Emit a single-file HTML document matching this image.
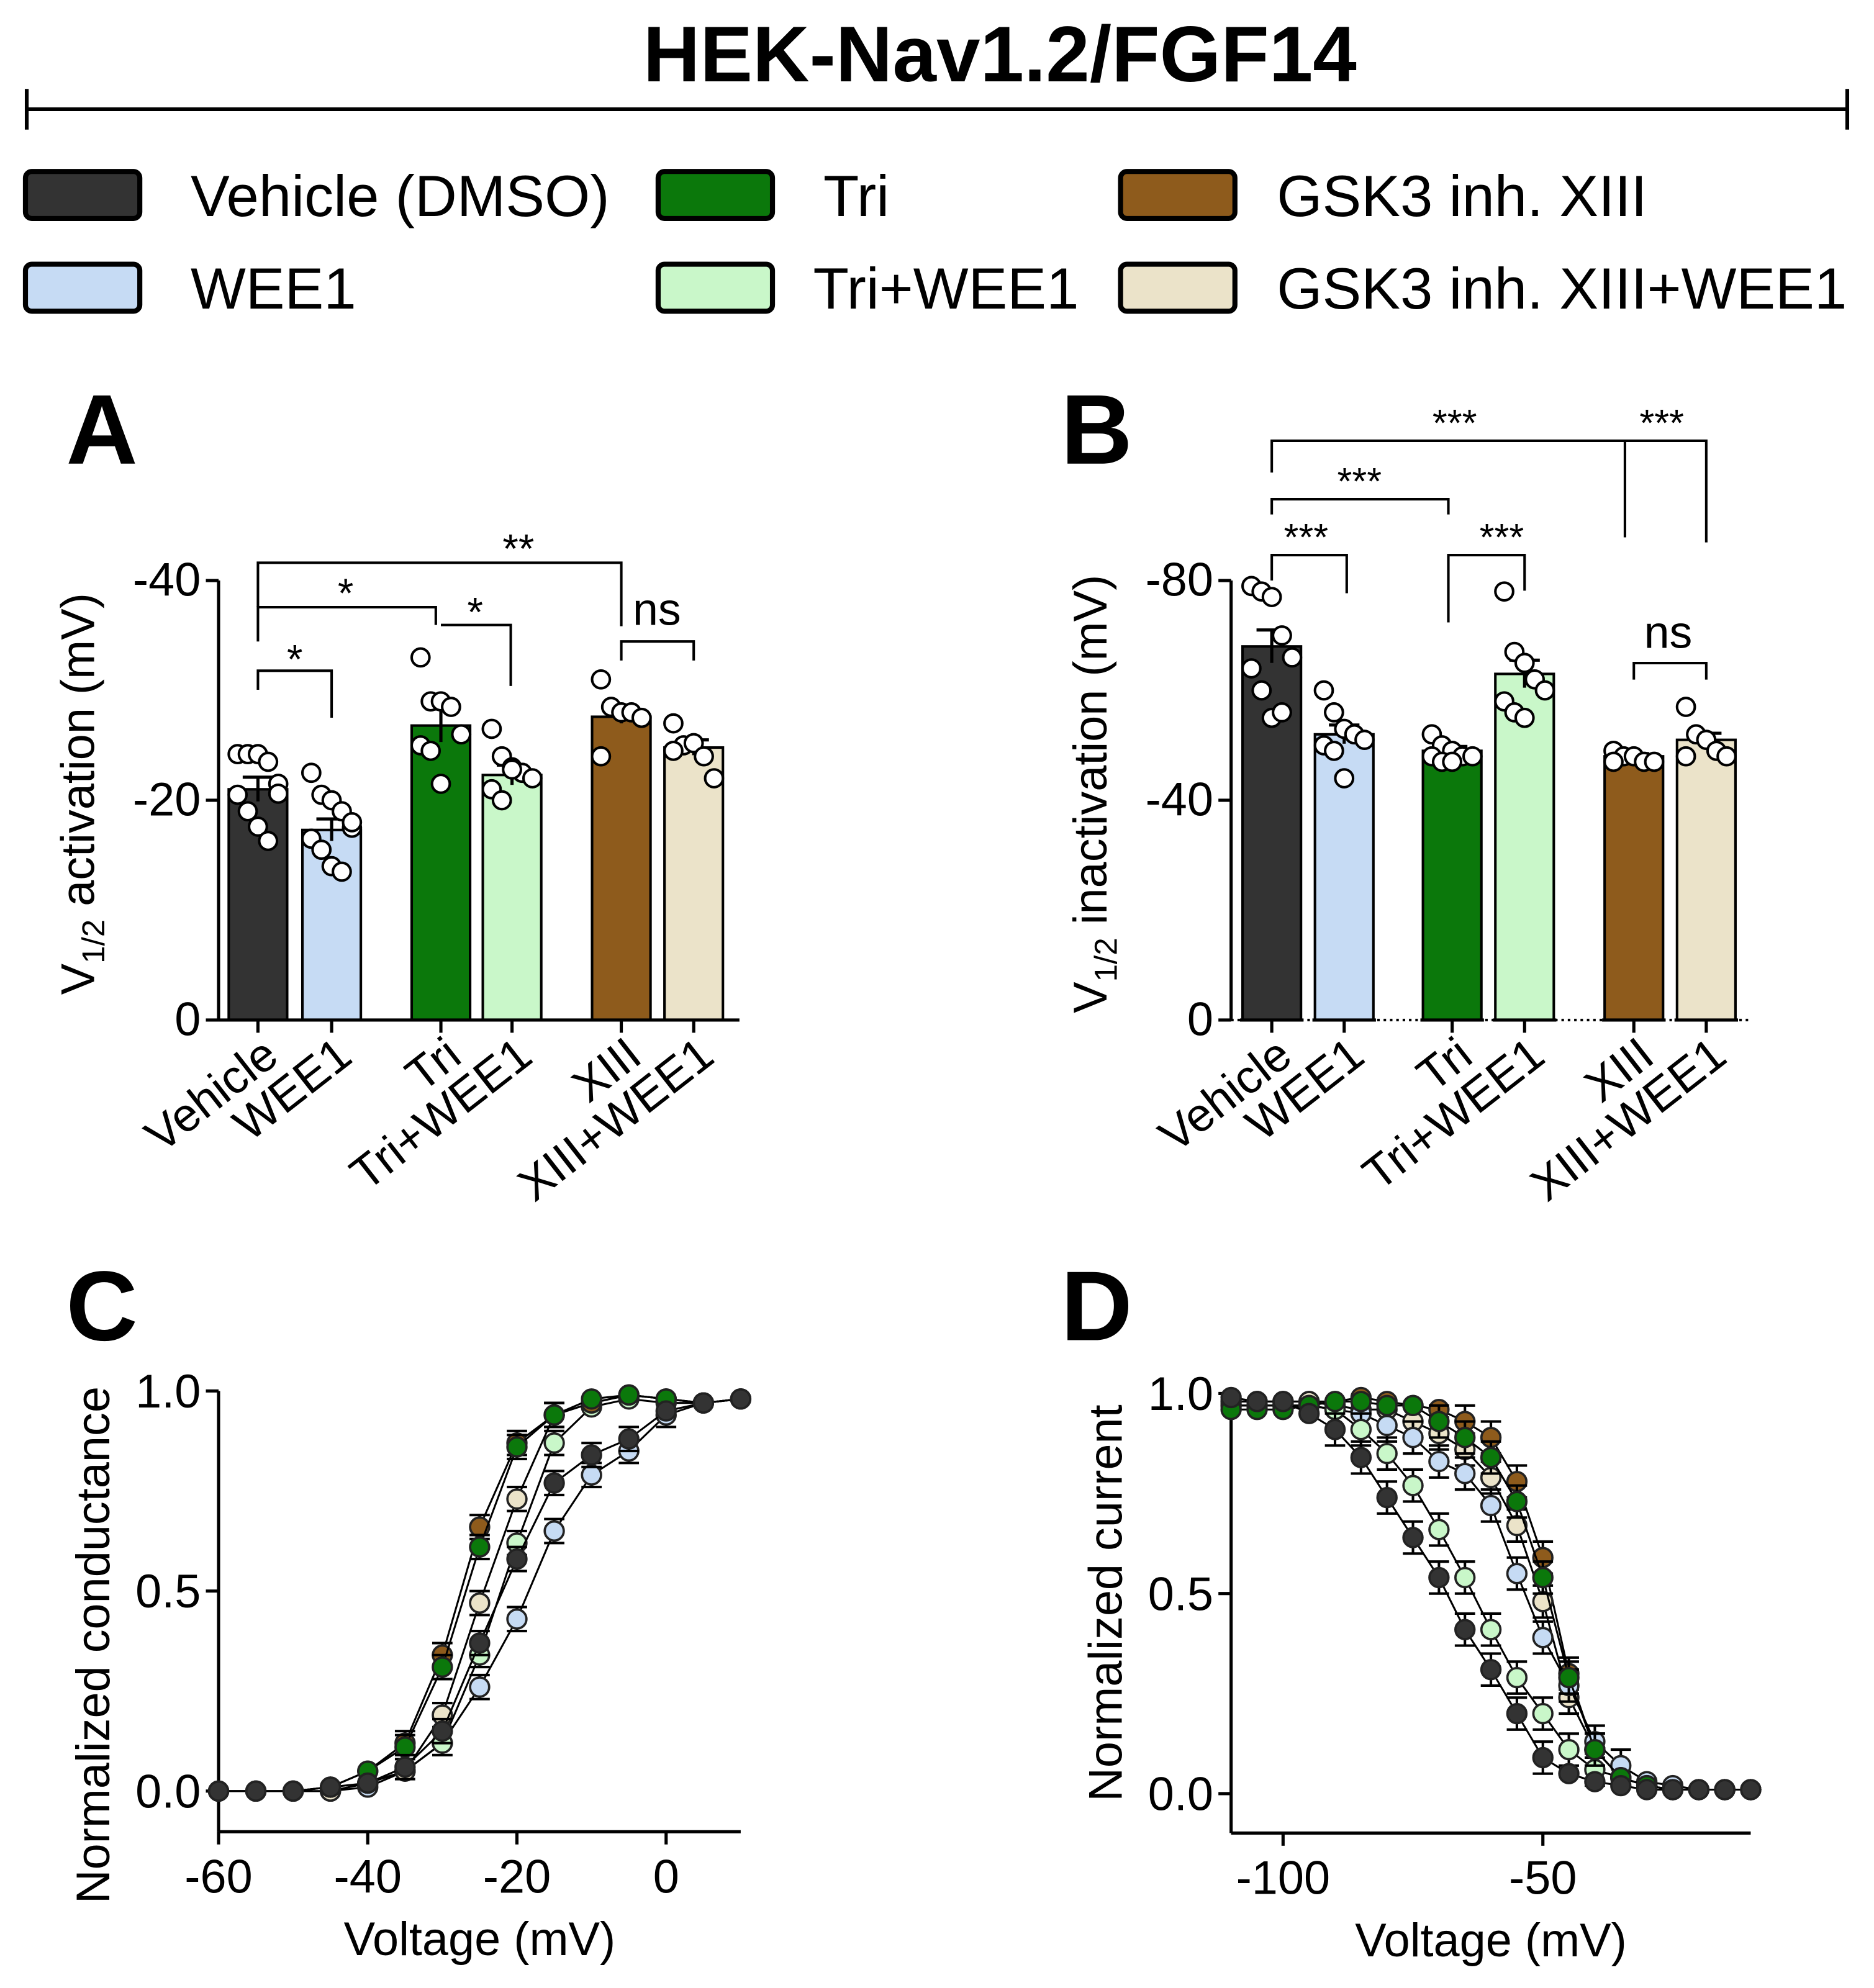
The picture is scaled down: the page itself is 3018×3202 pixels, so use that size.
<!DOCTYPE html>
<html><head><meta charset="utf-8"><style>
html,body{margin:0;padding:0;background:#fff;}
svg{display:block;font-family:"Liberation Sans",Arial,sans-serif;}
</style></head><body>
<svg id="fig" width="3018" height="3202" viewBox="0 0 1475 1565" xmlns="http://www.w3.org/2000/svg">
<g>
<text x="787" y="64" font-size="62" font-weight="bold" text-anchor="middle">HEK-Nav1.2/FGF14</text>
<line x1="20" y1="86" x2="1455" y2="86" stroke="#000" stroke-width="3"/>
<line x1="21" y1="70" x2="21" y2="102" stroke="#000" stroke-width="3"/>
<line x1="1454" y1="70" x2="1454" y2="102" stroke="#000" stroke-width="3"/>
</g>
<g id="legend"></g>
<g id="panelA"></g>
<g id="panelB"></g>
<g id="panelC"></g>
<g id="panelD"></g>
</svg>
<script>
const groupNames = ["Vehicle","WEE1","Tri","Tri+WEE1","XIII","XIII+WEE1"];
const legendLabels = ["Vehicle (DMSO)","WEE1","Tri","Tri+WEE1","GSK3 inh. XIII","GSK3 inh. XIII+WEE1"];
const colors = ["#333333","#c6dbf4","#0b780b","#c9f7c9","#8e5b1c","#ebe3c9"];

// Panel A: V1/2 activation
const actMeans = [21.0,17.3,26.8,22.3,27.6,24.8];
const actSem = [1.1,1.0,1.5,0.9,0.6,0.7];
const actPoints = [
 [24.2,24.2,24.2,23.5,21.5,20.5,19.0,17.6,16.3,20.6],
 [22.5,20.5,20.0,19.0,17.5,16.5,15.5,14.0,13.5,18.0],
 [33.0,29.0,29.0,28.5,26.0,25.0,24.5,21.5],
 [26.5,24.0,23.0,22.5,22.0,21.0,20.0,22.8],
 [31.0,28.5,28.0,28.0,27.5,24.0],
 [27.0,25.0,25.2,24.0,22.0,24.5]
];
const actTicks = [0,-20,-40];
// Panel B: V1/2 inactivation
const inactMeans = [68,52,49,63,48,51];
const inactSem = [3.0,1.7,0.8,2.5,0.5,1.2];
const inactPoints = [
 [79,78,77,70,66,64,60,55,56],
 [60,56,53,52,51,50,49,44],
 [52,50,49,48,48,48,47,47],
 [78,67,65,62,60,58,56,55],
 [49,48,48,47,47,47],
 [57,52,51,49,48,48]
];
const inactTicks = [0,-40,-80];

// Panel C
const voltC = [-60,-55,-50,-45,-40,-35,-30,-25,-20,-15,-10,-5,0,5,10];
const gVehicle = [0,0,0,0.01,0.02,0.06,0.15,0.37,0.58,0.77,0.84,0.88,0.95,0.97,0.98];
const gWee1 = [0,0,0,0,0.01,0.05,0.12,0.26,0.43,0.65,0.79,0.85,0.94,0.97,0.98];
const gTri = [0,0,0,0.01,0.05,0.11,0.31,0.61,0.86,0.94,0.98,0.99,0.98,0.97,0.98];
const gTriWee1 = [0,0,0,0,0.02,0.05,0.12,0.34,0.62,0.87,0.96,0.98,0.97,0.97,0.98];
const gXiii = [0,0,0,0.01,0.05,0.12,0.34,0.66,0.87,0.94,0.97,0.99,0.98,0.97,0.98];
const gXiiiWee1 = [0,0,0,0,0.02,0.05,0.19,0.47,0.73,0.94,0.97,0.99,0.98,0.97,0.98];
const gErr = 0.03;
const cXTicks = [-60,-40,-20,0];
const cYTicks = [0,0.5,1.0];

// Panel D
const voltD = [-110,-105,-100,-95,-90,-85,-80,-75,-70,-65,-60,-55,-50,-45,-40,-35,-30,-25,-20,-15,-10];
const iVehicle = [0.99,0.98,0.98,0.95,0.91,0.84,0.74,0.64,0.54,0.41,0.31,0.20,0.09,0.05,0.03,0.02,0.01,0.01,0.01,0.01,0.01];
const iWee1 = [0.97,0.97,0.97,0.97,0.96,0.95,0.92,0.89,0.83,0.80,0.72,0.55,0.39,0.27,0.13,0.07,0.03,0.02,0.01,0.01,0.01];
const iTri = [0.96,0.96,0.96,0.97,0.98,0.98,0.97,0.97,0.93,0.89,0.84,0.73,0.54,0.29,0.11,0.04,0.02,0.01,0.01,0.01,0.01];
const iTriWee1 = [0.97,0.97,0.97,0.97,0.96,0.91,0.85,0.77,0.66,0.54,0.41,0.29,0.20,0.11,0.06,0.04,0.02,0.01,0.01,0.01,0.01];
const iXiii = [0.98,0.98,0.98,0.98,0.98,0.99,0.98,0.97,0.96,0.93,0.89,0.78,0.59,0.30,0.11,0.04,0.02,0.01,0.01,0.01,0.01];
const iXiiiWee1 = [0.98,0.98,0.98,0.98,0.97,0.96,0.96,0.93,0.90,0.86,0.79,0.67,0.48,0.24,0.11,0.04,0.02,0.01,0.01,0.01,0.01];
const iErr = 0.04;
const dXTicks = [-100,-50];
const dYTicks = [0,0.5,1.0];

const NS = "http://www.w3.org/2000/svg";
function mk(parent, tag, attrs, text) {
  const e = document.createElementNS(NS, tag);
  for (const k in attrs) e.setAttribute(k, attrs[k]);
  if (text !== undefined) e.textContent = text;
  parent.appendChild(e);
  return e;
}

const legend = document.getElementById('legend');
const legPos = [[20,135],[20,208],[518,135],[518,208],[882,135],[882,208]];
const legTextX = [150,150,648,640,1005,1005];
legendLabels.forEach((lab,i)=>{
  const g = mk(legend,'g',{});
  
  
  mk(g,'rect',{x:legPos[i][0],y:legPos[i][1],width:90,height:37,rx:5,fill:colors[i],stroke:'#000','stroke-width':4});
  mk(g,'text',{x:legTextX[i],y:legPos[i][1]+35,'font-size':46},lab);
});

function panelLetter(g,x,y,t){
  const e = mk(g,'text',{x:x,y:y,'font-size':78,'font-weight':'bold'},t);
  
  
}

function barPanel(gid, letter, letterX, axX, centers, means, sems, pts, ticks, maxV, ylab, brackets, baselineDotted) {
  const g = document.getElementById(gid);
  panelLetter(g, letterX, 365, letter);
  const y0 = 803, yTop = 457;
  const ys = v => y0 - (v/maxV)*(y0-yTop);
  const axEnd = axX + 410;
  mk(g,'line',{x1:axX,y1:yTop,x2:axX,y2:y0,stroke:'#000','stroke-width':2.5});
  ticks.forEach(t=>{
    const yy = ys(-t);
    mk(g,'line',{x1:axX-10,y1:yy,x2:axX,y2:yy,stroke:'#000','stroke-width':2.5});
    const tl = mk(g,'text',{x:axX-14,y:yy+12,'font-size':37,'text-anchor':'end'},String(t));
    
    
  });
  const yl = mk(g,'text',{transform:`translate(${axX-98},${(yTop+y0)/2-5}) rotate(-90)`,'font-size':37,'text-anchor':'middle'});
  
  
  mk(yl,'tspan',{},'V');
  mk(yl,'tspan',{'font-size':25,dy:8},'1/2');
  mk(yl,'tspan',{dy:-8},' '+ylab);
  centers.forEach((cx,i)=>{
    const h = ys(means[i]);
    const b = mk(g,'rect',{x:cx-23,y:h,width:46,height:y0-h,fill:colors[i],stroke:'#000','stroke-width':2});
    
    
  });
  if (baselineDotted) {
    mk(g,'line',{x1:axX,y1:y0,x2:axEnd,y2:y0,stroke:'#000','stroke-width':2,'stroke-dasharray':'2,3'});
    centers.forEach(cx=>mk(g,'line',{x1:cx-25,y1:y0,x2:cx+25,y2:y0,stroke:'#000','stroke-width':2.5}));
  } else {
    mk(g,'line',{x1:axX,y1:y0,x2:axEnd,y2:y0,stroke:'#000','stroke-width':2.5});
  }
  centers.forEach((cx,i)=>{
    mk(g,'line',{x1:cx,y1:y0,x2:cx,y2:y0+10,stroke:'#000','stroke-width':2.5});
    const t = mk(g,'text',{transform:`translate(${cx+18},${y0+32}) rotate(-38)`,'font-size':37,'text-anchor':'end'},groupNames[i]);
    
    
  });
  centers.forEach((cx,i)=>{
    const a = ys(means[i]+sems[i]), b = ys(means[i]-sems[i]);
    mk(g,'line',{x1:cx,y1:a,x2:cx,y2:b,stroke:'#000','stroke-width':2.5});
    mk(g,'line',{x1:cx-12,y1:a,x2:cx+12,y2:a,stroke:'#000','stroke-width':2.5});
  });
  centers.forEach((cx,i)=>{
    pts[i].forEach((v,j)=>{
      const off = ((j%5)-2)*8;
      const d = mk(g,'circle',{cx:cx+off,cy:ys(v),r:7,fill:'#fff',stroke:'#000','stroke-width':2});
      
      
    });
  });
  brackets.forEach(br=>{
    const [x1,ya,x2,yb,yh,label,lx,ly,fs] = br;
    mk(g,'polyline',{points:`${x1},${ya} ${x1},${yh} ${x2},${yh} ${x2},${yb}`,fill:'none',stroke:'#000','stroke-width':2});
    const t = mk(g,'text',{x:lx,y:ly,'font-size':fs,'text-anchor':'middle'},label);
    
    
  });
}

barPanel('panelA','A',52,172,[203,261,347,403,489,546],actMeans,actSem,actPoints,actTicks,40,'activation (mV)',[
  [203,543,261,565,528,'*',232,530,32],
  [203,505,343,492,478,'*',272,478,32],
  [347,492,402,540,492,'*',374,493,32],
  [203,478,489,493,443,'**',408,443,32],
  [489,520,546,520,505,'ns',517,492,36]
], false);

barPanel('panelB','B',835,969,[1001,1058,1143,1200,1286,1343],inactMeans,inactSem,inactPoints,inactTicks,80,'inactivation (mV)',[
  [1001,457,1060,467,437,'***',1028,433,30],
  [1001,405,1140,405,393,'***',1070,389,30],
  [1140,490,1200,465,437,'***',1182,433,30],
  [1001,372,1343,427,347,'***',1145,343,30],
  [1279,423,1279,423,347,'***',1308,343,30],
  [1286,535,1343,535,522,'ns',1313,510,36]
], true);

function linePanel(gid, letter, letterX, ax, xMin, xMax, xTicks, yTicks, volts, series, err, ylab) {
  const g = document.getElementById(gid);
  panelLetter(g, letterX, 1055, letter);
  const xs = v => ax.x0 + (v - xMin)/(xMax - xMin)*(ax.x1 - ax.x0);
  const ys = v => ax.yZero - v*(ax.yZero - ax.yOne);
  mk(g,'line',{x1:ax.x0,y1:ax.axTop,x2:ax.x0,y2:ax.axY,stroke:'#000','stroke-width':2.5});
  mk(g,'line',{x1:ax.x0,y1:ax.axY,x2:ax.x1,y2:ax.axY,stroke:'#000','stroke-width':2.5});
  yTicks.forEach(t=>{
    const yy = ys(t);
    mk(g,'line',{x1:ax.x0-10,y1:yy,x2:ax.x0,y2:yy,stroke:'#000','stroke-width':2.5});
    const tl = mk(g,'text',{x:ax.x0-14,y:yy+13,'font-size':37,'text-anchor':'end'},t.toFixed(1));
    
    
  });
  xTicks.forEach(t=>{
    const xx = xs(t);
    mk(g,'line',{x1:xx,y1:ax.axY,x2:xx,y2:ax.axY+10,stroke:'#000','stroke-width':2.5});
    const tl = mk(g,'text',{x:xx,y:ax.axY+48,'font-size':37,'text-anchor':'middle'},String(t));
    
    
  });
  const xt = mk(g,'text',{x:(ax.x0+ax.x1)/2,y:ax.axY+97,'font-size':37,'text-anchor':'middle'},'Voltage (mV)');
  
  
  const yt = mk(g,'text',{transform:`translate(${ax.x0-86},${ax.yLabCenter}) rotate(-90)`,'font-size':37,'text-anchor':'middle'},ylab);
  
  
  series.forEach(s=>{
    const sg = mk(g,'g',{});
    
    
    mk(sg,'polyline',{points:volts.map((v,i)=>xs(v)+','+ys(s.data[i])).join(' '),fill:'none',stroke:'#000','stroke-width':1.5});
    volts.forEach((v,i)=>{
      const val = s.data[i];
      if (val > 0.05 && val < 0.95) {
        const a = ys(val+err), b = ys(val-err), x = xs(v);
        mk(sg,'line',{x1:x,y1:a,x2:x,y2:b,stroke:'#000','stroke-width':2});
        mk(sg,'line',{x1:x-8,y1:a,x2:x+8,y2:a,stroke:'#000','stroke-width':2});
        mk(sg,'line',{x1:x-8,y1:b,x2:x+8,y2:b,stroke:'#000','stroke-width':2});
      }
    });
    volts.forEach((v,i)=>{
      const p = mk(sg,'circle',{cx:xs(v),cy:ys(s.data[i]),r:7.5,fill:s.color,stroke:'#222','stroke-width':1.8});
      
      
    });
  });
}

linePanel('panelC','C',52,{x0:172,x1:583,yZero:1410,yOne:1095,axTop:1095,axY:1442,yLabCenter:1295},-60,10,cXTicks,cYTicks,voltC,[
  {name:'wee1',data:gWee1,color:colors[1]},
  {name:'tri-wee1',data:gTriWee1,color:colors[3]},
  {name:'xiii-wee1',data:gXiiiWee1,color:colors[5]},
  {name:'xiii',data:gXiii,color:colors[4]},
  {name:'tri',data:gTri,color:colors[2]},
  {name:'vehicle',data:gVehicle,color:colors[0]}
],gErr,'Normalized conductance');

linePanel('panelD','D',835,{x0:969,x1:1378,yZero:1412,yOne:1097,axTop:1097,axY:1443,yLabCenter:1262},-110,-10,dXTicks,dYTicks,voltD,[
  {name:'xiii',data:iXiii,color:colors[4]},
  {name:'xiii-wee1',data:iXiiiWee1,color:colors[5]},
  {name:'wee1',data:iWee1,color:colors[1]},
  {name:'tri-wee1',data:iTriWee1,color:colors[3]},
  {name:'tri',data:iTri,color:colors[2]},
  {name:'vehicle',data:iVehicle,color:colors[0]}
],iErr,'Normalized current');
</script>
</body></html>
